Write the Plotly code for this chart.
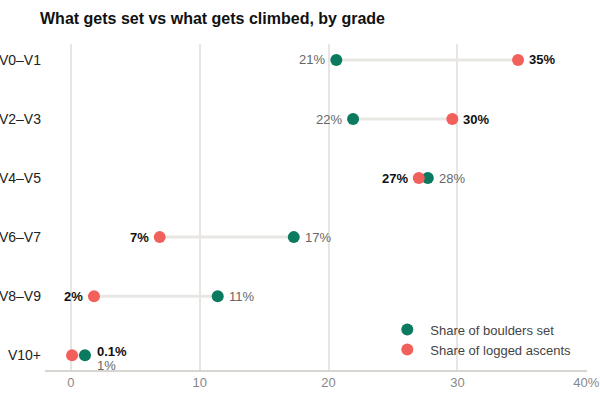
import plotly.graph_objects as go

grades = ["V0–V1", "V2–V3", "V4–V5", "V6–V7", "V8–V9", "V10+"]
share_set = [20.6, 21.9, 27.7, 17.3, 11.4, 1.1]
share_ascents = [34.7, 29.6, 27.0, 6.9, 1.8, 0.1]
x_tickvals = [0, 10, 20, 30, 40]
x_ticktext = ["0", "10", "20", "30", "40%"]

GREEN = "#0b7a5f"
RED = "#f2605c"
FONT = "Liberation Sans, Arial, sans-serif"

def fmt(v):
    return f"{v:.1f}%" if v < 0.5 else f"{round(v)}%"

ypos = list(range(len(grades)))
fig = go.Figure()

# connectors
for i in ypos:
    fig.add_trace(go.Scatter(x=[share_set[i], share_ascents[i]], y=[i, i], mode="lines",
                             line=dict(color="#e9e7e4", width=3), showlegend=False, hoverinfo="skip"))

fig.add_trace(go.Scatter(x=share_set, y=ypos, mode="markers", name="Share of boulders set",
                         marker=dict(color=GREEN, size=12)))
fig.add_trace(go.Scatter(x=share_ascents, y=ypos, mode="markers", name="Share of logged ascents",
                         marker=dict(color=RED, size=12)))

annotations = []
for i in ypos:
    s, a = share_set[i], share_ascents[i]
    if max(s, a) < 3:
        right = max(s, a)
        annotations.append(dict(x=right, y=i, text=f"<b>{fmt(a)}</b>", xanchor="left", xshift=10, yshift=4,
                                showarrow=False, font=dict(color="#111", size=13, family=FONT)))
        annotations.append(dict(x=right, y=i, text=fmt(s), xanchor="left", xshift=10, yshift=-10,
                                showarrow=False, font=dict(color="#666", size=13, family=FONT)))
        continue
    s_right = s > a
    annotations.append(dict(x=s, y=i, text=fmt(s), xanchor="left" if s_right else "right",
                            xshift=9 if s_right else -9, showarrow=False,
                            font=dict(color="#666", size=13, family=FONT)))
    annotations.append(dict(x=a, y=i, text=f"<b>{fmt(a)}</b>", xanchor="right" if s_right else "left",
                            xshift=-9 if s_right else 9, showarrow=False,
                            font=dict(color="#111", size=13, family=FONT)))

fig.update_layout(
    width=600, height=400,
    margin=dict(l=45, r=13, t=44, b=30),
    paper_bgcolor="white", plot_bgcolor="white",
    font=dict(family=FONT, size=13, color="#222"),
    title=dict(text="<b>What gets set vs what gets climbed, by grade</b>", x=40/600, xanchor="left",
               y=1 - 18/400, yanchor="middle", font=dict(size=16, color="#111", family=FONT)),
    xaxis=dict(range=[-2, 40.05], tickvals=x_tickvals, ticktext=x_ticktext, showgrid=True,
               gridcolor="#e8e6e3", gridwidth=1.5, zeroline=False, showline=True, linecolor="#d9d6d2",
               linewidth=1.5, tickfont=dict(color="#888", size=13), ticks="", fixedrange=True,
               automargin=False),
    yaxis=dict(range=[5.25, -0.27], tickvals=ypos, ticktext=grades, showgrid=False, zeroline=False,
               tickfont=dict(color="#222", size=14), ticks="", automargin=False, ticklabelstandoff=3),
    legend=dict(x=0.626, y=0.17, xanchor="left", yanchor="top", bgcolor="rgba(0,0,0,0)",
                font=dict(size=13, color="#444"), itemwidth=36, tracegroupgap=0),
    annotations=annotations,
)

fig.write_html("out.html")
